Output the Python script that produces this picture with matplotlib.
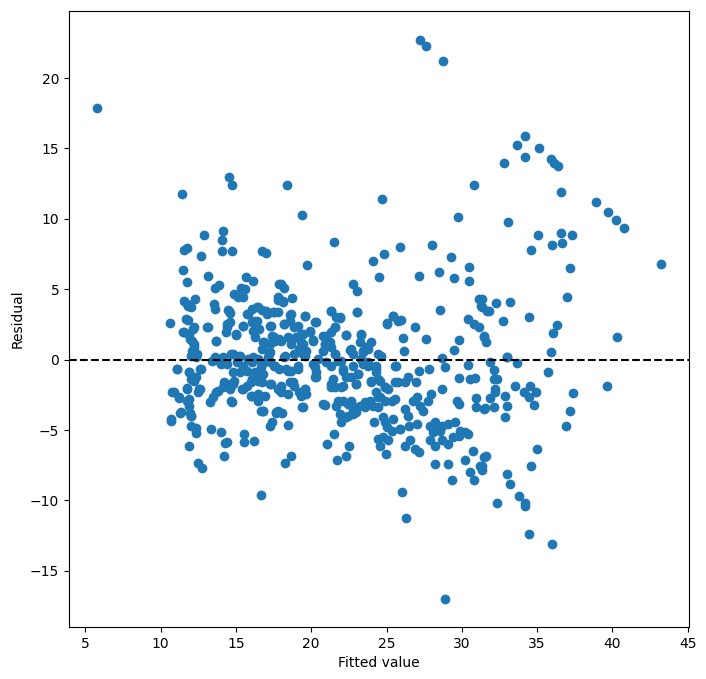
import numpy as np
import matplotlib
matplotlib.use("Agg")
import matplotlib.pyplot as plt

# isolated points
fit_out = [5.8, 27.2, 27.6, 28.75, 28.9]
res_out = [17.9, 22.7, 22.3, 21.2, -17.0]

# left side, above zero
fit_a = [14.55, 14.75, 11.42, 12.89, 14.16, 14.07, 11.75, 11.55, 12.69, 14.09,
         14.75, 16.76, 17.0, 11.51, 11.75, 13.13, 13.87, 13.6, 15.67, 16.16,
         15.31, 15.6, 14.87, 15.16, 15.49, 17.89, 11.55, 11.84, 12.29, 13.6,
         14.47, 14.58, 15.71, 16.04, 16.38, 16.71, 17.04, 17.49, 17.82, 10.6,
         11.8, 11.49, 11.82, 12.15, 11.93, 12.2, 12.07, 12.27, 13.16, 14.38,
         14.6, 14.33, 15.0, 15.49, 16.04, 16.38, 16.16, 16.56, 17.27, 17.38,
         16.27, 13.67, 16.82, 17.27, 17.6, 16.71, 17.27, 14.82, 15.27, 13.6,
         14.16, 16.11, 12.38, 17.16]
res_a = [12.98, 12.39, 11.75, 8.84, 9.15, 8.48, 7.96, 7.77, 7.35, 7.68,
         7.70, 7.73, 7.56, 6.38, 5.53, 5.93, 5.29, 5.08, 5.86, 5.6,
         5.08, 5.0, 4.66, 4.42, 4.47, 5.36, 4.18, 3.8, 4.32, 3.59,
         3.52, 3.28, 3.24, 3.59, 3.71, 3.52, 3.24, 3.35, 4.23, 2.6,
         2.81, 1.94, 1.82, 2.17, 1.46, 1.11, 0.64, 0.28, 2.34, 2.29,
         2.64, 1.94, 1.75, 2.41, 2.64, 2.76, 2.05, 2.17, 2.41, 1.7,
         1.58, 1.30, 1.23, 1.11, 1.34, 0.76, 0.52, 0.4, 0.28, 0.16,
         0.16, 0.16, 0.16, 0.16]

# left side, below zero
fit_b = [11.11, 11.89, 12.6, 12.04, 12.38, 10.87, 11.75, 12.6, 12.49, 11.22,
         11.87, 11.87, 11.93, 12.04, 11.27, 10.67, 12.04, 12.33, 12.33, 13.33,
         14.0, 14.27, 14.44, 15.53, 15.53, 16.22, 11.89, 14.22, 12.49, 12.76,
         16.67, 13.27, 13.71, 14.16, 14.38, 14.82, 14.6, 14.75, 13.49, 13.93,
         14.38, 15.04, 15.49, 16.04, 16.71, 17.27, 14.82, 15.27, 15.71, 16.27,
         16.82, 17.6, 15.38, 15.71, 16.04, 16.49, 16.93, 16.71, 17.27, 17.82,
         16.82, 17.38, 17.27, 17.67, 16.04, 16.38]
res_b = [-0.66, -0.85, -0.66, -1.37, -1.25, -2.27, -2.01, -2.08, -2.32, -2.72,
         -2.79, -3.26, -3.78, -3.97, -3.78, -4.33, -4.73, -4.87, -5.2, -4.92,
         -5.11, -5.91, -5.82, -5.27, -5.86, -5.77, -6.17, -6.88, -7.35, -7.71,
         -9.6, -3.03, -2.32, -1.96, -1.73, -1.73, -2.08, -2.98, -2.67, -0.19,
         -0.31, -0.14, -0.43, -0.19, -0.31, -0.19, -0.85, -0.9, -0.78, -0.9,
         -1.02, -0.47, -2.08, -1.84, -2.55, -2.44, -2.55, -1.61, -1.73, -2.08,
         -3.62, -4.44, -4.68, -3.78, -1.37, -1.13]

# middle, above zero
fit_c = [18.36, 19.4, 21.49, 19.73, 24.73, 30.82, 29.73, 24.07, 24.82, 25.89,
         24.49, 28.0, 27.16, 28.49, 29.27, 29.49, 30.49, 30.49, 22.78, 23.07,
         23.07, 18.0, 18.22, 17.78, 18.11, 18.73, 17.78, 18.6, 18.56, 19.11,
         18.22, 19.56, 20.29, 17.89, 18.44, 19.0, 19.44, 19.89, 19.33, 20.11,
         19.22, 19.67, 21.33, 21.67, 21.89, 21.56, 21.33, 21.0, 20.89, 21.22,
         20.78, 21.56, 22.33, 23.33, 23.22, 23.67, 23.44, 22.56, 22.78, 24.6,
         25.0, 25.44, 25.96, 26.07, 26.16, 26.89, 27.62, 28.56, 28.67, 29.51,
         29.82, 30.44, 30.78, 31.11, 31.44, 31.11, 31.27, 31.67, 18.29, 19.44]
res_c = [12.41, 10.28, 8.37, 6.71, 11.44, 12.41, 10.14, 7.02, 7.49, 7.99,
         5.88, 8.13, 5.93, 6.24, 7.28, 5.79, 6.59, 5.6, 5.36, 4.89,
         3.38, 5.36, 5.06, 4.42, 4.18, 4.37, 3.35, 3.19, 2.76, 2.41,
         2.53, 3.12, 2.69, 1.46, 1.58, 1.58, 1.82, 1.94, 1.23, 1.34,
         0.75, 0.64, 3.47, 3.0, 2.95, 2.29, 1.94, 1.7, 1.11, 1.23,
         0.64, 0.4, 1.77, 1.75, 1.23, 0.87, 0.52, 0.71, 0.4, 0.24,
         2.53, 3.12, 2.81, 1.53, 0.64, 2.34, 1.46, 3.52, 0.12, 0.68,
         1.39, 2.88, 2.53, 2.29, 1.58, 4.3, 3.83, 3.47, 0.28, 0.4]

# middle, below zero
fit_d = [25.62, 26.0, 26.29, 18.29, 18.67, 21.73, 22.29, 21.07, 21.49, 22.49,
         18.49, 19.4, 18.07, 17.78, 20.89, 22.0, 22.33, 22.78, 23.0, 22.67,
         23.22, 23.56, 23.89, 24.11, 24.44, 24.78, 24.89, 24.16, 24.44, 24.78,
         24.56, 24.96, 25.11, 25.44, 25.89, 25.56, 26.22, 26.44, 26.22, 26.56,
         26.89, 27.18, 26.51, 27.0, 26.78, 27.0, 27.22, 27.44, 27.78, 27.93,
         27.89, 28.22, 28.44, 28.67, 29.11, 29.56, 29.89, 30.22, 30.44, 28.11,
         28.56, 27.89, 28.22, 28.67, 29.11, 29.44, 29.84, 28.22, 29.11, 29.33,
         30.22, 30.73, 30.51, 30.82, 31.22, 31.44, 26.22, 26.44, 26.96, 27.18,
         27.82, 28.67, 28.89, 29.78, 30.44, 30.56, 30.89, 29.67, 29.84, 30.96,
         30.96, 31.49, 24.33, 24.33, 24.56, 24.89, 25.11, 25.56, 24.33, 24.56,
         24.89, 22.11, 22.33, 22.78, 23.11, 23.44, 23.78, 24.0, 23.0, 21.33,
         21.56, 22.0, 21.67, 20.11, 20.33, 20.22, 21.0, 21.33, 21.78, 17.89,
         18.33, 18.67, 19.11, 18.0, 18.0, 18.56, 18.89, 19.22, 19.56, 19.67,
         22.11, 22.44, 22.78, 22.44, 25.0, 25.33, 25.89]
res_d = [-0.43, -9.41, -11.23, -7.33, -6.88, -7.16, -6.88, -5.98, -5.27, -6.17,
         -4.61, -3.33, -3.78, -3.62, -3.21, -4.4, -4.09, -3.5, -3.74, -3.03,
         -3.26, -3.38, -2.91, -3.26, -2.67, -4.09, -4.44, -4.4, -5.63, -5.51,
         -6.1, -6.69, -5.74, -4.21, -4.96, -2.79, -3.5, -3.97, -6.1, -5.74,
         -6.34, -6.57, -4.73, -4.56, -2.91, -2.67, -3.26, -3.62, -2.91, -2.44,
         -4.68, -4.44, -4.8, -4.68, -4.56, -4.44, -5.04, -5.15, -5.27, -5.11,
         -5.04, -5.74, -6.1, -5.74, -5.98, -5.51, -5.39, -7.4, -7.4, -8.58,
         -7.16, -6.5, -7.99, -8.58, -7.52, -6.93, -1.61, -1.25, -1.61, -0.78,
         -0.66, -2.08, -0.54, -1.32, -0.38, -1.37, -1.32, -2.91, -3.14, -2.74,
         -3.38, -3.5, -0.43, -0.9, -1.49, -1.96, -2.08, -1.61, -2.32, -2.67,
         -2.91, -0.66, -1.25, -0.43, -1.02, -0.31, -0.43, -1.61, -1.73, -1.73,
         -1.96, -1.96, -3.26, -0.31, -0.9, -1.25, -0.19, -0.43, -0.07, -0.66,
         -0.66, -0.78, -0.43, -1.84, -2.32, -1.61, -1.84, -2.32, -2.08, -2.44,
         -2.91, -3.14, -3.38, -3.97, -4.8, -5.04, -4.92]

# right side, above zero
fit_e = [34.22, 33.67, 35.11, 34.18, 32.82, 35.89, 36.11, 36.4, 36.56, 38.93,
         39.67, 40.22, 40.78, 33.07, 35.07, 36.56, 37.29, 35.96, 36.67, 34.62,
         43.2, 37.16, 36.96, 31.33, 31.33, 31.78, 32.27, 33.22, 32.73, 34.44,
         36.33, 36.07, 40.27, 35.93, 33.0, 31.44, 31.6]
res_e = [15.89, 15.25, 15.01, 14.4, 13.95, 14.23, 13.99, 13.76, 11.91, 11.2,
         10.5, 9.93, 9.34, 9.79, 8.84, 8.98, 8.84, 8.13, 8.25, 7.8,
         6.78, 6.5, 4.47, 4.3, 3.71, 3.43, 4.02, 4.11, 2.77, 3.0,
         2.48, 1.89, 1.58, 0.57, 0.21, 1.7, 1.23]

# right side, below zero
fit_f = [31.89, 32.11, 32.11, 32.33, 32.22, 32.22, 31.89, 31.56, 32.16, 33.0,
         33.67, 35.69, 33.55, 34.11, 34.51, 34.89, 34.44, 34.82, 32.89, 33.0,
         32.89, 39.62, 37.4, 37.15, 36.89, 31.62, 31.33, 31.33, 35.0, 34.62,
         33.0, 33.22, 33.82, 34.18, 34.22, 32.33, 34.44, 36.0]
res_f = [-0.19, -0.71, -1.37, -1.37, -2.08, -2.27, -2.72, -3.45, -3.33, 0.17,
         -0.24, -0.85, -1.84, -2.27, -1.84, -2.32, -2.67, -3.21, -2.6, -3.26,
         -4.04, -1.84, -2.36, -3.62, -4.68, -6.88, -7.52, -7.87, -6.34, -7.52,
         -8.11, -8.82, -9.72, -10.19, -10.4, -10.19, -12.36, -13.07]

# dense centre band (fitted 16-26, residual -4..4)
fit_g = [16.44, 17.0, 17.56, 18.11, 18.67, 19.56, 20.22, 21.33, 21.89, 23.07,
         25.0, 25.44, 25.78, 16.33, 17.33, 18.22, 18.89, 19.33, 19.89, 20.78,
         21.56, 22.33, 23.33, 24.0, 16.89, 17.56, 18.0, 18.67, 19.44, 20.11,
         20.89, 21.33, 22.67, 23.44, 23.78, 24.44, 17.22, 18.22, 18.89, 19.56,
         20.44, 21.56, 22.0, 23.33, 23.78, 16.67, 17.56, 18.44, 19.11, 20.22,
         20.33, 21.44, 22.11, 22.67, 23.11, 24.33, 24.44, 25.56, 16.44, 17.33,
         18.0, 18.78, 19.56, 21.33, 22.11, 23.0, 24.0, 24.89, 25.78, 16.56,
         18.44, 19.33, 20.78, 21.78, 22.67, 23.56, 24.44, 25.33, 16.78, 17.67,
         19.44, 21.89, 22.78]
res_g = [3.71, 3.47, 3.35, 4.06, 3.23, 3.12, 2.64, 3.47, 3.0, 3.4,
         2.57, 3.12, 2.76, 2.17, 2.41, 2.53, 2.29, 1.82, 2.05, 1.7,
         2.29, 1.75, 1.82, 1.23, 1.23, 1.58, 1.34, 1.11, 1.11, 1.39,
         1.11, 0.87, 0.75, 0.64, 0.75, 0.4, 0.4, 0.16, 0.4, 0.28,
         0.04, 0.4, -0.07, 0.04, -0.19, -0.55, -0.43, -0.78, -0.67, -0.55,
         -1.26, -1.38, -0.78, -1.26, -1.02, -0.67, -1.38, -0.43, -1.49, -1.73,
         -2.2, -1.61, -2.08, -1.97, -1.85, -1.73, -1.49, -1.97, -1.61, -2.56,
         -2.44, -2.56, -3.15, -2.91, -2.91, -3.03, -3.38, -2.91, -3.62, -3.74,
         -3.34, -3.86, -3.86]

# dense left band (fitted 10-17)
fit_h = [11.78, 12.0, 11.67, 12.22, 11.55, 11.89, 12.11, 12.22, 12.0, 12.44,
         13.11, 13.67, 13.56, 14.56, 14.44, 15.44, 15.0, 15.78, 16.22, 13.44,
         14.0, 14.67, 15.22, 15.78, 16.44, 11.07, 11.89, 12.67, 12.22, 11.78,
         12.55, 10.78, 11.22, 14.22, 14.89, 15.44, 16.0, 13.78, 14.67, 11.78,
         11.33, 12.0, 10.67, 16.67, 16.0, 16.44]
res_h = [3.94, 3.71, 2.88, 2.29, 1.94, 1.82, 1.34, 0.87, 0.28, 0.4,
         2.34, 1.34, 3.94, 3.47, 2.52, 2.41, 1.82, 3.23, 2.76, -0.07,
         -0.31, 0.4, 0.28, 0.04, 0.04, -0.67, -0.9, -0.67, -1.49, -2.08,
         -2.08, -2.32, -2.67, -1.61, -1.49, -2.08, -1.61, -2.2, -2.91, -2.91,
         -3.74, -3.97, -4.21, -3.62, -2.56, -2.91]

fitted = np.concatenate([fit_out, fit_a, fit_b, fit_c, fit_d, fit_e, fit_f,
                         fit_g, fit_h])
resid = np.concatenate([res_out, res_a, res_b, res_c, res_d, res_e, res_f,
                        res_g, res_h])

fig = plt.figure(figsize=(7.06, 6.79), dpi=100)
ax = fig.add_axes([69 / 706, 52 / 679, 620 / 706, 616 / 679])
ax.scatter(fitted, resid)
ax.axhline(0, c='k', ls='--')
ax.set_xlim(3.92, 45.08)
ax.set_ylim(-18.99, 24.76)
ax.set_xlabel("Fitted value")
ax.set_ylabel("Residual")

fig.savefig("out.png", dpi=100)
